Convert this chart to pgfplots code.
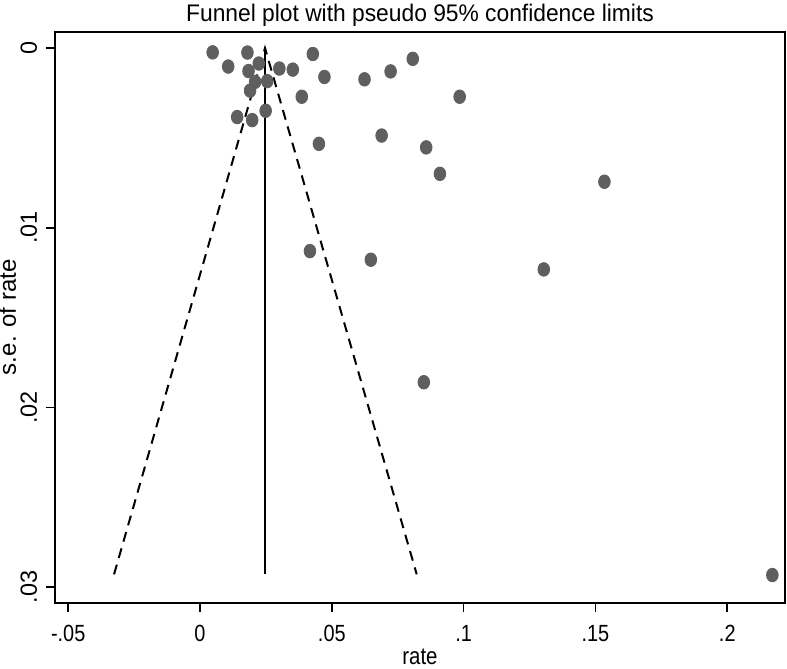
\documentclass[border=0pt]{standalone}
\usepackage{pgfplots}
\pgfplotsset{compat=1.18}
\usepackage{fontspec}
\setmainfont{Liberation Sans}
\newfontfamily\narrowfont{Liberation Sans}[FakeStretch=0.85]
\newfontfamily\titlefont{Liberation Sans}[FakeStretch=0.95]
\definecolor{dotgray}{RGB}{95,95,95}
\begin{document}
\begin{tikzpicture}
\useasboundingbox (-27.5pt,-33.15pt) rectangle (366pt,301.35pt);
\begin{axis}[
  at={(0,0)}, anchor=south west,
  scale only axis, width=365pt, height=285.5pt,
  xmin=-0.0550, xmax=0.2219, ymin=-0.00091, ymax=0.03087,
  y dir=reverse,
  scaled ticks=false,
  axis line style={line width=0.85pt},
  tick align=outside, major tick length=4.5pt,
  tick style={black, line width=0.8pt},
  xtick={-0.05,0,0.05,0.1,0.15,0.2},
  xticklabels={-.05,0,.05,.1,.15,.2},
  ytick={0,0.01,0.02,0.03},
  yticklabels={0,.01,.02,.03},
  xtick pos=bottom, ytick pos=left,
  xticklabel style={font=\narrowfont\fontsize{11.7}{14}\selectfont, anchor=base, yshift=-15pt},
  yticklabel style={font=\fontsize{11.7}{14}\selectfont, rotate=90, anchor=base, yshift=4.5pt},
  title={Funnel plot with pseudo 95\% confidence limits},
  title style={font=\titlefont\fontsize{12}{14}\selectfont, at={(0.5,1)}, anchor=base, yshift=-1pt},
  xlabel={rate},
  xlabel style={font=\narrowfont\fontsize{12}{14}\selectfont, at={(0.5,0)}, anchor=base, yshift=-31pt},
  ylabel={s.e. of rate},
  ylabel style={font=\fontsize{12}{14}\selectfont, at={(0,0.5)}, anchor=base, inner sep=0pt, yshift=19.5pt},
]
% studies
\addplot[only marks, mark=*, mark size=3.4pt, color=dotgray,
  mark options={xscale=0.86, fill=dotgray, draw=dotgray}] coordinates {
  (0.0048,0.00024) (0.0180,0.00025) (0.0107,0.00103) (0.0184,0.00128)
  (0.0223,0.00086) (0.0301,0.00114) (0.0352,0.00120) (0.0428,0.00033)
  (0.0472,0.00161) (0.0255,0.00184) (0.0209,0.00188) (0.0190,0.00237)
  (0.0386,0.00271) (0.0249,0.00349) (0.0141,0.00384) (0.0198,0.00401)
  (0.0451,0.00533) (0.0624,0.00174) (0.0723,0.00130) (0.0689,0.00487)
  (0.0807,0.00060) (0.0985,0.00271) (0.0858,0.00553) (0.0910,0.00700)
  (0.1534,0.00744) (0.0417,0.01130) (0.0648,0.01178) (0.1304,0.01232)
  (0.0849,0.01860) (0.2171,0.02933)
};
% pseudo 95% limits
\addplot[black, line width=1pt, dash pattern=on 5pt off 3.5pt] coordinates {
  (-0.0326,0.02929) (0.02466,0) (0.0822,0.02929)
};
% pooled estimate
\addplot[black, line width=1pt] coordinates {(0.02466,0) (0.02466,0.02929)};
\end{axis}
\end{tikzpicture}
\end{document}
